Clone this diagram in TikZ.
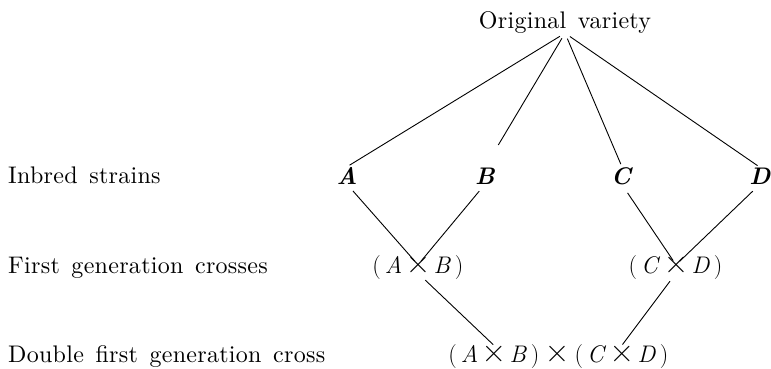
\documentclass[tikz,border=0pt]{standalone}
\usepackage{fontspec}
\newfontfamily\widefont{lmroman10-regular.otf}[LetterSpace=1.2,WordSpace=1.4]
\begin{document}
\begin{tikzpicture}[x=1pt,y=-1pt,
  every node/.style={inner sep=0pt, font=\fontsize{24}{28}\selectfont},
  lbl/.style={font=\widefont\fontsize{24}{28}\selectfont},
  crs/.style={anchor=base, font=\fontsize{34}{34}\selectfont},
  conn/.style={line width=0.9pt, shorten <=3pt, shorten >=3pt}]
\useasboundingbox (0,0) rectangle (771,368);
% labels
\node[lbl, anchor=base] (orig) at (565,28) {Original variety};
\node[lbl, anchor=base west] (l1) at (8,183) {Inbred strains};
\node[lbl, anchor=base west] (l2) at (8,273) {First generation crosses};
\node[lbl, anchor=base west] (l3) at (8,362) {Double first generation cross};
% inbred strains
\node[anchor=base] (A) at (347,184) {\textbf{\textit{A}}};
\node[anchor=base] (B) at (485,184) {\textbf{\textit{B}}};
\node[anchor=base] (C) at (622,184) {\textbf{\textit{C}}};
\node[anchor=base] (D) at (760,184) {\textbf{\textit{D}}};
% first generation crosses
\node[crs] (abx) at (418,273) {×};
\node[anchor=base east] (abl) at ([xshift=-3pt]abx.base west) {(\,\textit{A}};
\node[anchor=base west] (abr) at ([xshift=3pt]abx.base east) {\textit{B}\,)};
\node[crs] (cdx) at (676,273) {×};
\node[anchor=base east] (cdl) at ([xshift=-3pt]cdx.base west) {(\,\textit{C}};
\node[anchor=base west] (cdr) at ([xshift=3pt]cdx.base east) {\textit{D}\,)};
% double cross
\node[crs] (dxm) at (557,362) {×};
\node[anchor=base east] (d1r) at ([xshift=-5pt]dxm.base west) {\textit{B}\,)};
\node[crs, anchor=base east] (dx1) at ([xshift=-3pt]d1r.base west) {×};
\node[anchor=base east] (d1l) at ([xshift=-3pt]dx1.base west) {(\,\textit{A}};
\node[anchor=base west] (d2l) at ([xshift=5pt]dxm.base east) {(\,\textit{C}};
\node[crs, anchor=base west] (dx2) at ([xshift=3pt]d2l.base east) {×};
\node[anchor=base west] (d2r) at ([xshift=3pt]dx2.base east) {\textit{D}\,)};
% connectors
\draw[conn, shorten <=6pt] (orig.south) -- (A.north);
\draw[conn, shorten <=6pt, shorten >=26pt] (orig.south) -- (B.north);
\draw[conn, shorten <=6pt] (orig.south) -- (C.north);
\draw[conn, shorten <=6pt] (orig.south) -- (D.north);
\draw[conn, shorten <=9pt, shorten >=5pt] (A.south) -- (abx.center);
\draw[conn, shorten <=9pt, shorten >=5pt] (B.south) -- (abx.center);
\draw[conn, shorten <=10pt, shorten >=5pt] (C.south) -- (cdx.center);
\draw[conn, shorten <=10pt, shorten >=5pt] (D.south) -- (cdx.center);
\draw[conn, shorten <=10pt, shorten >=1pt] (abx.south) -- (dx1.north);
\draw[conn, shorten <=10pt, shorten >=1pt] (cdx.south) -- (dx2.north);
\end{tikzpicture}
\end{document}
